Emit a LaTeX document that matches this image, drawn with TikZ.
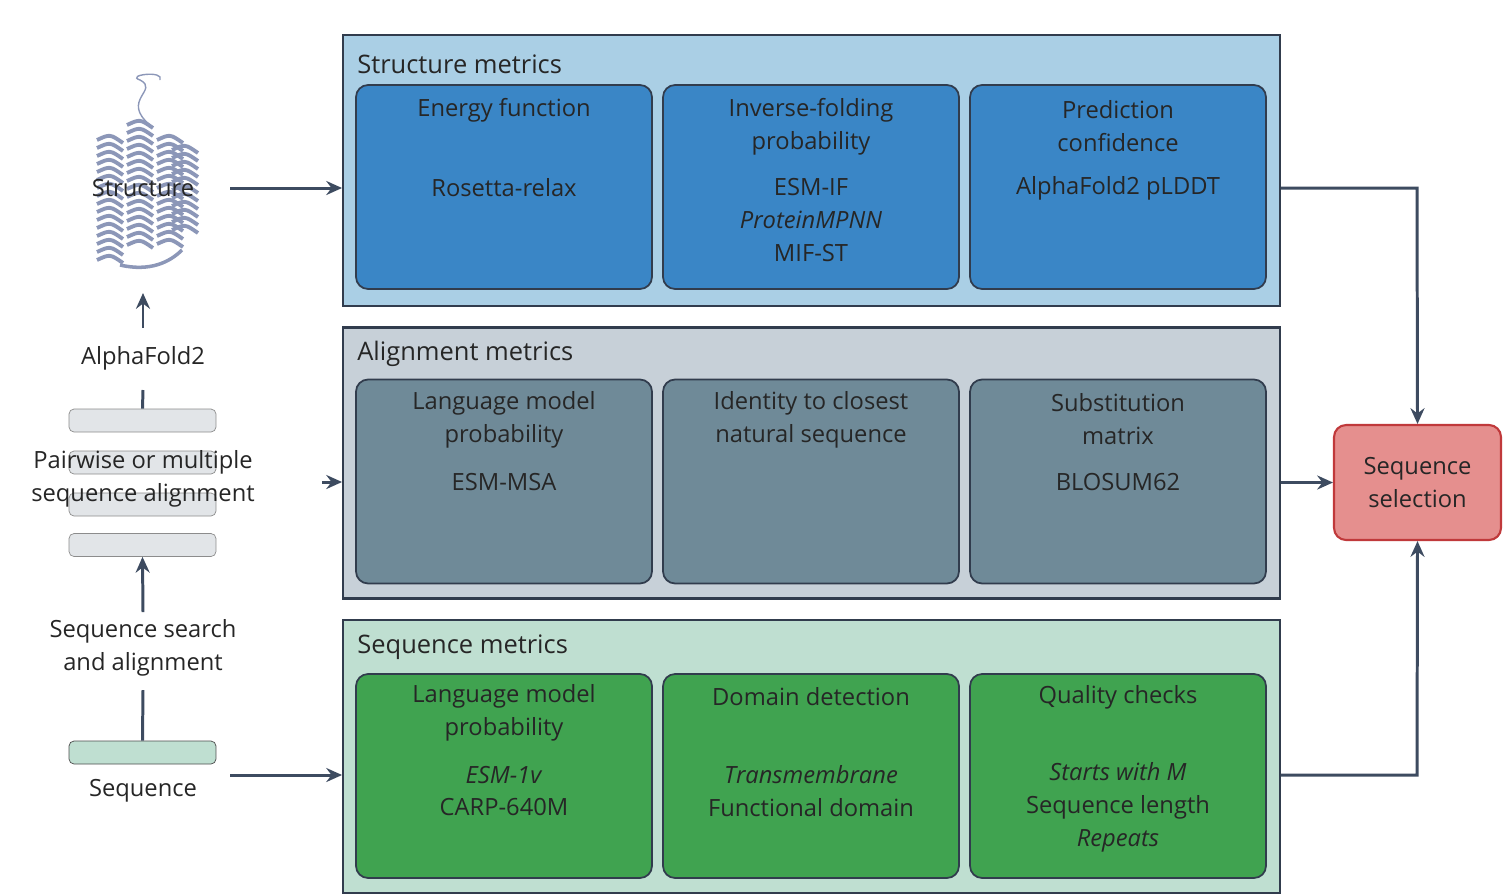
\documentclass[tikz,border=0pt]{standalone}
\usepackage{fontspec}
\setmainfont{Open Sans}
\usetikzlibrary{arrows.meta}
\definecolor{ink}{HTML}{3D4B60}
\definecolor{strpanel}{HTML}{AACFE5}
\definecolor{strbox}{HTML}{3A86C6}
\definecolor{alipanel}{HTML}{C7D0D8}
\definecolor{alibox}{HTML}{6F8A98}
\definecolor{seqpanel}{HTML}{BFDFD1}
\definecolor{seqbox}{HTML}{40A350}
\definecolor{selfill}{HTML}{E58F8E}
\definecolor{seledge}{HTML}{C0393B}
\definecolor{bar}{HTML}{E2E5E8}
\definecolor{coil}{HTML}{8C97B8}
\tikzstyle{panel} = [draw=ink!80!black,line width=1.2pt,minimum width=18.74cm,minimum height=5.42cm,inner sep=0pt]
\tikzstyle{metric} = [draw=ink!80!black,line width=1pt,rounded corners=0.24cm,minimum width=5.92cm,minimum height=4.08cm,inner sep=0pt]
\tikzstyle{txt} = [font=\fontsize{13.5}{18.7}\selectfont,align=center,text=black!85,inner sep=0pt]
\tikzstyle{head} = [font=\fontsize{14.5}{18}\selectfont,text=black!85,anchor=west,inner sep=0pt]
\tikzstyle{barbox} = [draw=black!45,fill=bar,rounded corners=0.1cm,minimum width=2.94cm,minimum height=0.46cm,inner sep=0pt]
\tikzstyle{flow} = [draw=ink,line width=1.7pt,-{Stealth[length=9pt,width=8pt,inset=3pt]}]
\tikzstyle{link} = [draw=ink,line width=1.7pt]
\begin{document}
\begin{tikzpicture}[x=0.02cm,y=-0.02cm]
  \useasboundingbox (0,0) rectangle (1503,893);
  % panels
  \node[panel,fill=strpanel] (strP) at (811.5,170.5) {};
  \node[panel,fill=alipanel] (aliP) at (811.5,463) {};
  \node[panel,fill=seqpanel,minimum height=5.46cm] (seqP) at (811.5,756.5) {};
  \node[head] at (357,64) {Structure metrics};
  \node[head] at (357,354) {Alignment metrics};
  \node[head] at (357,647) {Sequence metrics};
  % metric boxes
  \foreach \name/\x in {a/504,b/811,c/1118}{
    \node[metric,fill=strbox] (s\name) at (\x,187) {};
    \node[metric,fill=alibox] (l\name) at (\x,481.5) {};
    \node[metric,fill=seqbox] (q\name) at (\x,776) {};
  }
  \node[txt] at (504,110) {Energy function};
  \node[txt] at (504,188) {Rosetta-relax};
  \node[txt] at (811,126.5) {Inverse-folding\\probability};
  \node[txt] at (811,220) {ESM-IF\\\textit{ProteinMPNN}\\MIF-ST};
  \node[txt] at (1118,126.5) {Prediction\\confidence};
  \node[txt] at (1118,188) {AlphaFold2 pLDDT};
  \node[txt] at (504,419.5) {Language model\\probability};
  \node[txt] at (504,482) {ESM-MSA};
  \node[txt] at (811,419.5) {Identity to closest\\natural sequence};
  \node[txt] at (1118,419.5) {Substitution\\matrix};
  \node[txt] at (1118,482) {BLOSUM62};
  \node[txt] at (504,713) {Language model\\probability};
  \node[txt] at (504,791) {\textit{ESM-1v}\\CARP-640M};
  \node[txt] at (811,697) {Domain detection};
  \node[txt] at (811,791) {\textit{Transmembrane}\\Functional domain};
  \node[txt] at (1118,697) {Quality checks};
  \node[txt] at (1118,807) {\textit{Starts with M}\\Sequence length\\\textit{Repeats}};
  % selection
  \node[draw=seledge,fill=selfill,line width=1.2pt,rounded corners=0.24cm,
        minimum width=3.34cm,minimum height=2.3cm,txt] (sel) at (1417.5,482.5) {Sequence\\selection};
  % protein sketch
  \foreach \cx/\top/\bot in {110/140/260,140/125/250,170/140/250,185/150/235}{
    \pgfmathtruncatemacro\nxt{\top+8}
    \foreach \yy in {\top,\nxt,...,\bot}
      \draw[coil,line width=2.2pt] (\cx-13,\yy) .. controls (\cx,\yy-6) .. (\cx+13,\yy+3);
  }
  \draw[coil,line width=0.8pt] (150,125) .. controls (120,100) and (160,90) .. (140,80) .. controls (125,75) and (165,70) .. (160,80);
  \draw[coil,line width=2pt] (120,265) .. controls (150,272) and (170,262) .. (182,250);
  % left column
  \node[txt] (struct) at (143,188) {Structure};
  \node[txt] (af) at (143,358) {AlphaFold2};
  \node[barbox] (b1) at (142.5,420.5) {};
  \node[barbox] (b2) at (142.5,462.5) {};
  \node[barbox] (b3) at (142.5,504.5) {};
  \node[barbox] (b4) at (142.5,545) {};
  \node[txt] (msa) at (143,479) {Pairwise or multiple\\sequence alignment};
  \node[txt] (search) at (143,648) {Sequence search\\and alignment};
  \node[barbox,fill=seqpanel,draw=black!70] (seq) at (142.5,752.5) {};
  \node[txt] (seqt) at (143,791) {Sequence};
  \coordinate (s1) at (230,188);
  \coordinate (s2) at (322,482);
  \coordinate (s3) at (230,775);
  \coordinate (u1) at (143,328);
  \coordinate (u2) at (143,612);
  \coordinate (r1) at (1417,188);
  \coordinate (r3) at (1417,775);
  \path[flow] (s1) -- (s1 -| strP.west);
  \path[flow] (s2) -- (s2 -| aliP.west);
  \path[flow] (s3) -- (s3 -| seqP.west);
  \path[flow] (u1) -- (143,293);
  \path[flow] (u2) -- (b4.south);
  \path[link] (b1.north) -- (143,390);
  \path[link] (seq.north) -- (143,690);
  \path[flow] (strP.east |- r1) -- (r1) -- (sel.north);
  \path[flow] (aliP.east |- sel) -- (sel.west);
  \path[flow] (seqP.east |- r3) -- (r3) -- (sel.south);
\end{tikzpicture}
\end{document}
